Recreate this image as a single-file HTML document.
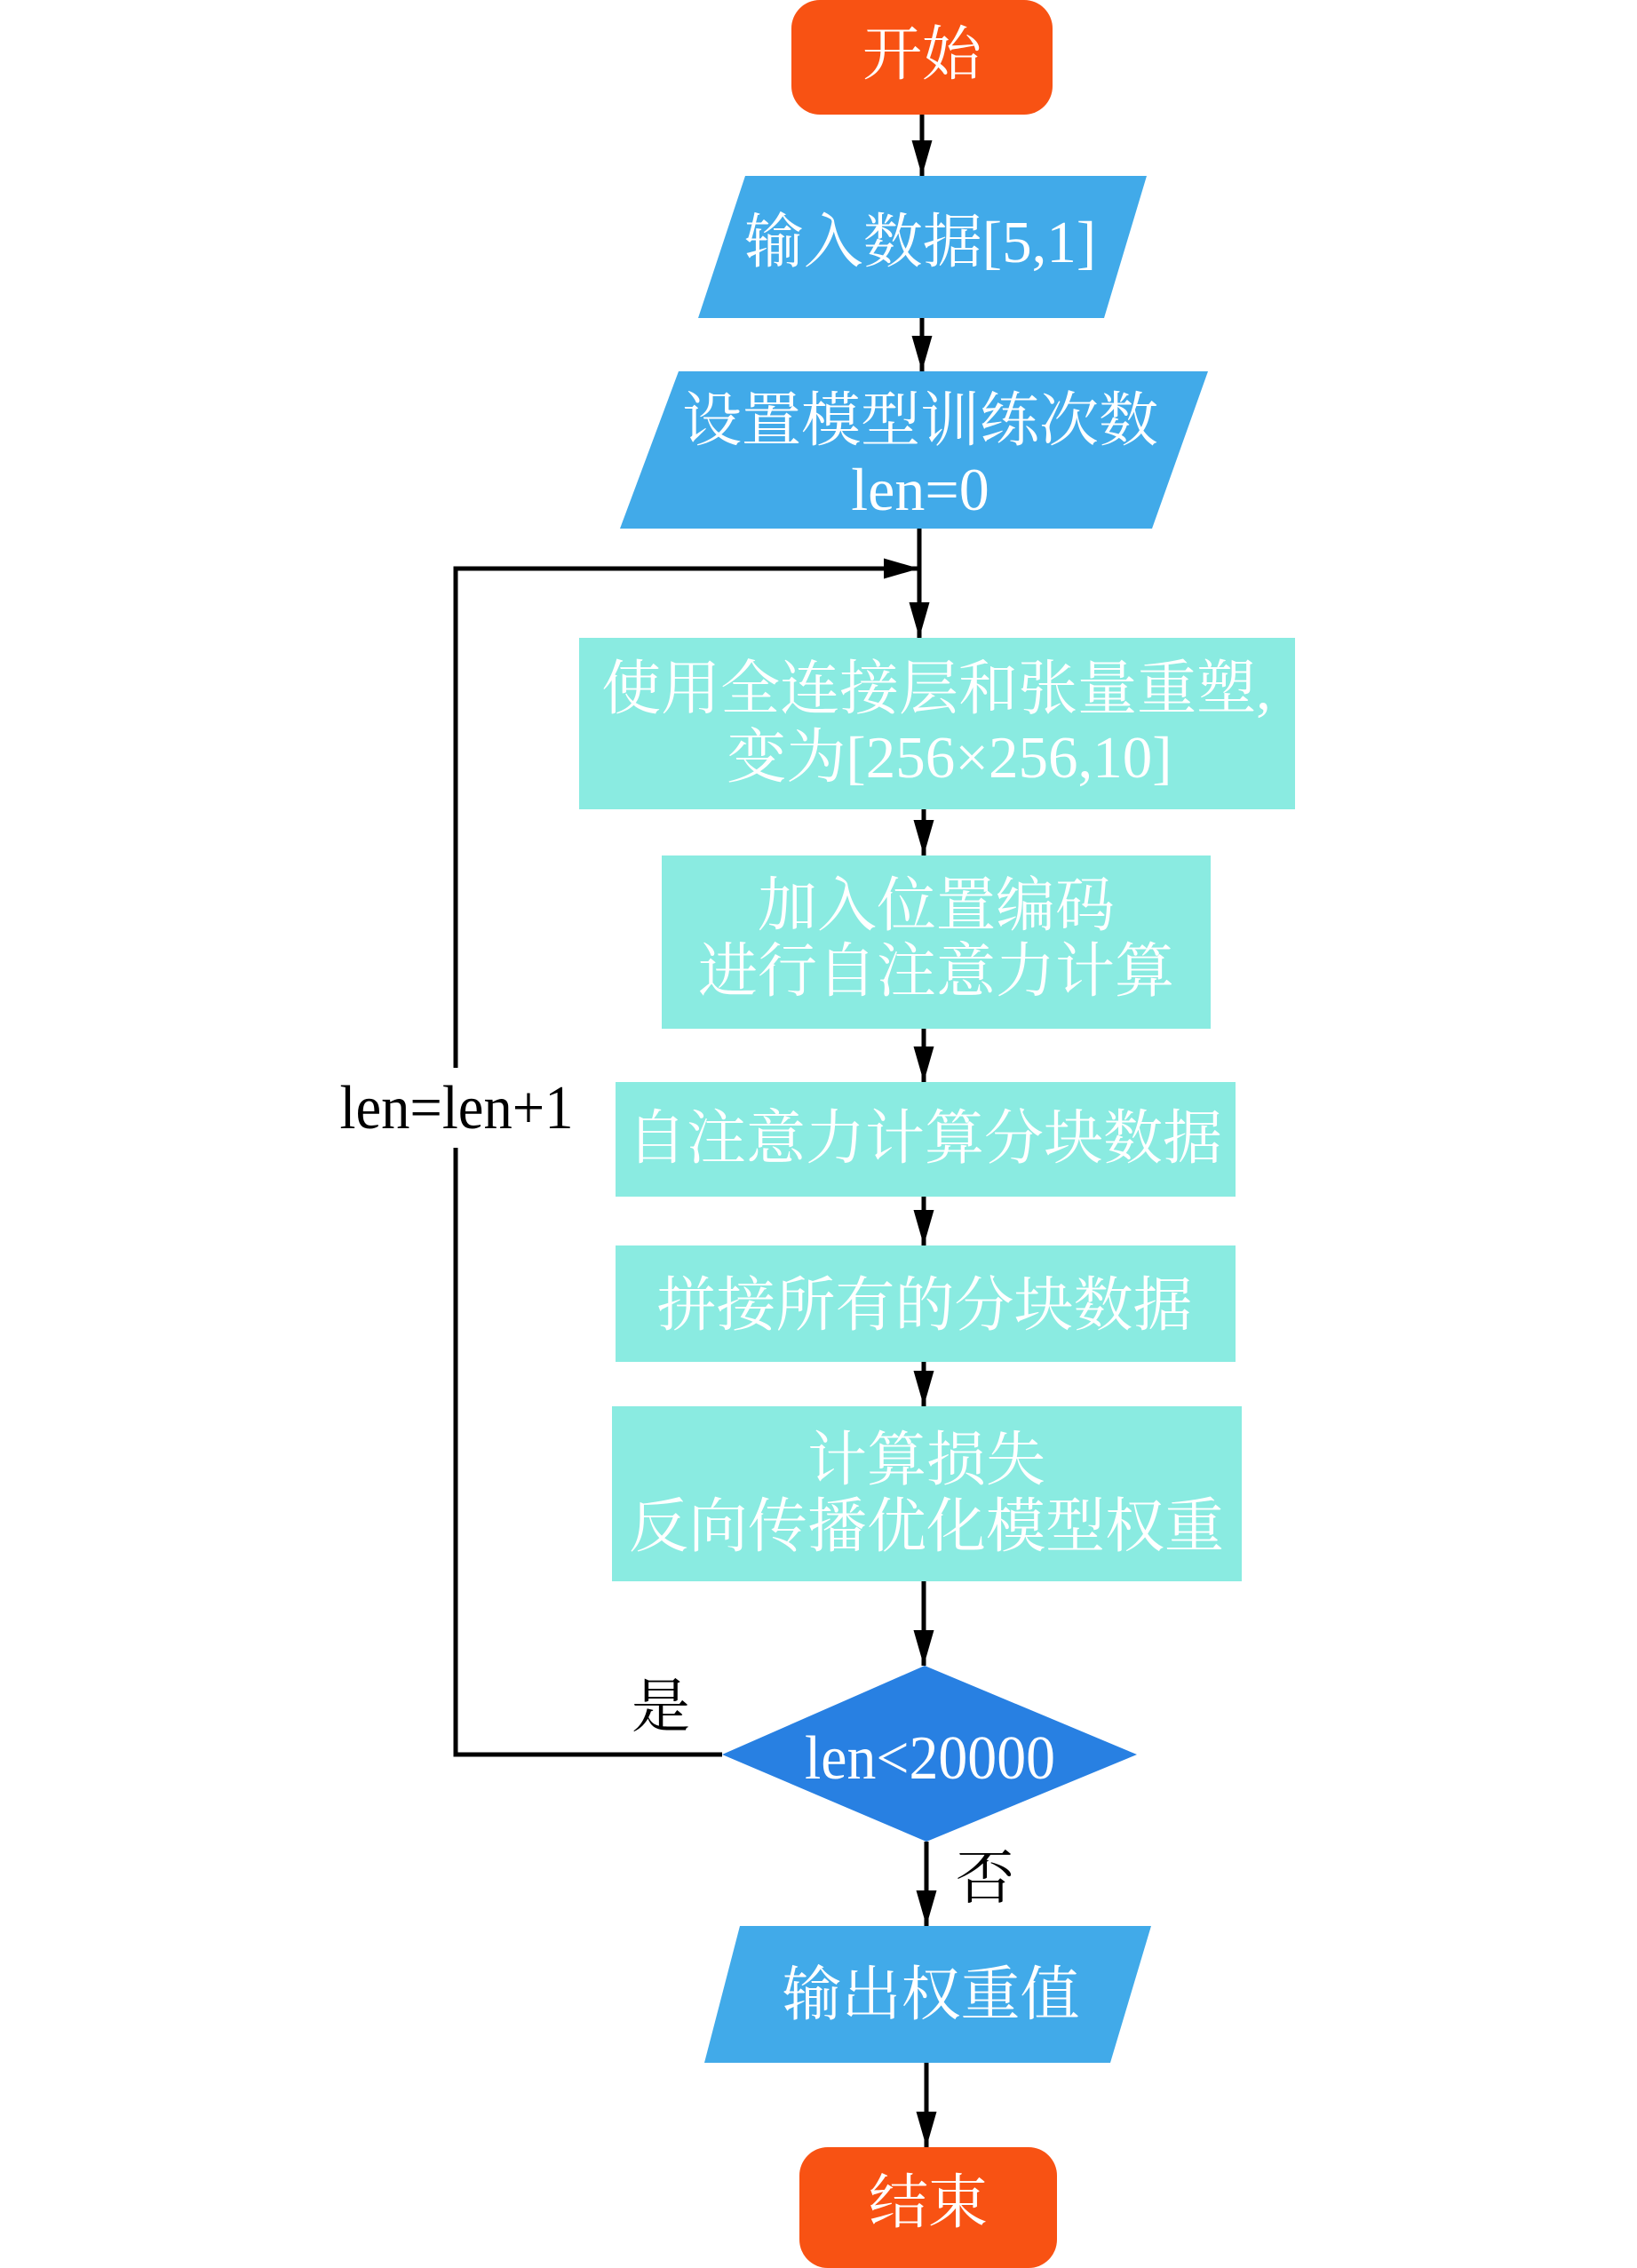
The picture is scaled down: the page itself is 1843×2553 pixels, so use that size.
<!DOCTYPE html>
<html><head><meta charset="utf-8"><style>
html,body{margin:0;padding:0;background:#fff;}
svg{display:block;}
text{font-family:"Liberation Serif","Noto Serif CJK SC","Noto Sans CJK SC",serif;}
.w{fill:#fff;font-size:67px;text-anchor:middle;dominant-baseline:central;}
.b{fill:#000;font-size:66px;text-anchor:middle;dominant-baseline:central;}
</style></head><body>
<svg width="1843" height="2553" viewBox="0 0 1843 2553" xmlns="http://www.w3.org/2000/svg">
<defs>
<marker id="ah" markerWidth="8" markerHeight="4.6" refX="8" refY="2.3" orient="auto" markerUnits="strokeWidth">
<path d="M0,0 L8,2.3 L0,4.6 Z" fill="#000"/>
</marker>
</defs>
<g stroke="#000" stroke-width="5" fill="none">
<line x1="1038" y1="129" x2="1038" y2="198" marker-end="url(#ah)"/>
<line x1="1038" y1="358" x2="1038" y2="418" marker-end="url(#ah)"/>
<line x1="1035" y1="595" x2="1035" y2="718" marker-end="url(#ah)"/>
<polyline points="513,1202 513,640 1035,640" marker-end="url(#ah)"/>
<polyline points="813,1975 513,1975 513,1292"/>
<line x1="1040" y1="911" x2="1040" y2="963" marker-end="url(#ah)"/>
<line x1="1040" y1="1158" x2="1040" y2="1218" marker-end="url(#ah)"/>
<line x1="1040" y1="1347" x2="1040" y2="1402" marker-end="url(#ah)"/>
<line x1="1040" y1="1533" x2="1040" y2="1583" marker-end="url(#ah)"/>
<line x1="1040" y1="1780" x2="1040" y2="1875" marker-end="url(#ah)"/>
<line x1="1043" y1="2073" x2="1043" y2="2168" marker-end="url(#ah)"/>
<line x1="1043" y1="2322" x2="1043" y2="2417" marker-end="url(#ah)"/>
</g>
<rect x="891" y="0" width="294" height="129" rx="32" fill="#F85213"/>
<text class="w" x="1038" y="62">开始</text>
<polygon points="839,198 1291,198 1243,358 786,358" fill="#41AAE9"/>
<text class="w" x="1036" y="273">输入数据[5,1]</text>
<polygon points="764,418 1360,418 1297,595 698,595" fill="#41AAE9"/>
<text class="w" x="1036" y="474">设置模型训练次数</text>
<text class="w" x="1036" y="551" style="font-size:68px">len=0</text>
<rect x="652" y="718" width="806" height="193" fill="#8AEBE1"/>
<text class="w" x="1054" y="776">使用全连接层和张量重塑,</text>
<text class="w" x="1069" y="853">变为[256×256,10]</text>
<rect x="745" y="963" width="618" height="195" fill="#8AEBE1"/>
<text class="w" x="1054" y="1020">加入位置编码</text>
<text class="w" x="1054" y="1094">进行自注意力计算</text>
<rect x="693" y="1218" width="698" height="129" fill="#8AEBE1"/>
<text class="w" x="1041" y="1282">自注意力计算分块数据</text>
<rect x="693" y="1402" width="698" height="131" fill="#8AEBE1"/>
<text class="w" x="1041" y="1470">拼接所有的分块数据</text>
<rect x="689" y="1583" width="709" height="197" fill="#8AEBE1"/>
<text class="w" x="1043" y="1644">计算损失</text>
<text class="w" x="1043" y="1719">反向传播优化模型权重</text>
<polygon points="1041,1875 1280,1975 1043,2073 813,1975" fill="#2880E2"/>
<text x="1047" y="2002" fill="#fff" font-size="70" text-anchor="middle" textLength="282" lengthAdjust="spacingAndGlyphs">len&lt;20000</text>
<polygon points="833,2168 1296,2168 1250,2322 793,2322" fill="#41AAE9"/>
<text class="w" x="1048" y="2246">输出权重值</text>
<rect x="900" y="2417" width="290" height="136" rx="32" fill="#F85213"/>
<text class="w" x="1045" y="2480">结束</text>
<text x="514" y="1270" fill="#000" font-size="70" text-anchor="middle" textLength="263" lengthAdjust="spacingAndGlyphs">len=len+1</text>
<text class="b" x="744" y="1922">是</text>
<text class="b" x="1109" y="2115">否</text>
</svg>
</body></html>
